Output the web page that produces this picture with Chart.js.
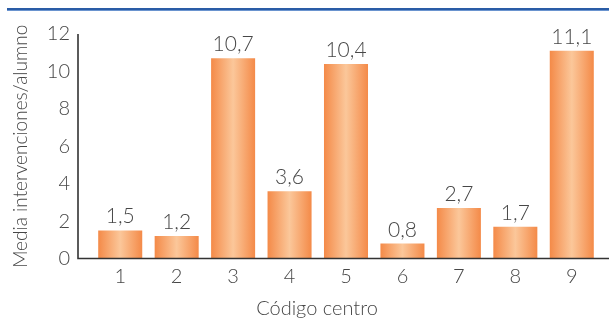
<!DOCTYPE html>
<html lang="es">
  <head>
    <meta charset="UTF-8" />
    <title>Media intervenciones por alumno</title>
    <script src="https://cdn.jsdelivr.net/npm/chart.js"></script>
    <style>
      html, body { margin: 0; padding: 0; background: #ffffff; }
      #wrap { width: 609px; height: 321px; position: relative; }
    </style>
  </head>
  <body>
    <div id="wrap"><canvas id="grafico"></canvas></div>
    <script>
      // datos
      const categorias = ["1", "2", "3", "4", "5", "6", "7", "8", "9"];
      const valores = [1.5, 1.2, 10.7, 3.6, 10.4, 0.8, 2.7, 1.7, 11.1];
      const yMin = 0;
      const yMax = 12;
      const yPaso = 2;
      const tituloY = "Media intervenciones/alumno";
      const tituloX = "Código centro";

      const fuente = "Lato";
      const grisTexto = "#474747";
      const anchoBarra = 0.78;
      let degradados = [];

      // degradado horizontal por barra (efecto cilindro)
      const pluginDegradado = {
        id: "degradado",
        afterLayout(chart) {
          const x = chart.scales.x;
          const ctx = chart.ctx;
          const w = (x.width / categorias.length) * anchoBarra;
          degradados = categorias.map((c, i) => {
            const cx = x.getPixelForValue(i);
            const g = ctx.createLinearGradient(cx - w / 2, 0, cx + w / 2, 0);
            g.addColorStop(0, "#f48a48");
            g.addColorStop(0.5, "#fbc79a");
            g.addColorStop(1, "#f48a48");
            return g;
          });
        },
      };

      // ejes, línea azul superior, etiquetas y título del eje x
      const pluginDecoracion = {
        id: "decoracion",
        afterDatasetsDraw(chart) {
          const ctx = chart.ctx;
          const area = chart.chartArea;
          const ejeIzq = area.left - 14;
          ctx.save();
          // línea azul superior
          ctx.fillStyle = "#2a5ca6";
          ctx.fillRect(7, 8, chart.width - 7, 2);
          ctx.fillStyle = "#6a94cf";
          ctx.fillRect(7, 10, chart.width - 7, 1);
          // ejes
          ctx.strokeStyle = "#333333";
          ctx.lineWidth = 1.6;
          ctx.beginPath();
          ctx.moveTo(ejeIzq, area.top);
          ctx.lineTo(ejeIzq, area.bottom);
          ctx.lineTo(chart.width, area.bottom);
          ctx.stroke();
          // etiquetas de valor
          ctx.fillStyle = grisTexto;
          ctx.font = "300 21px " + fuente;
          ctx.textAlign = "center";
          ctx.textBaseline = "alphabetic";
          const meta = chart.getDatasetMeta(0);
          meta.data.forEach((bar, i) => {
            const txt = valores[i].toString().replace(".", ",");
            ctx.fillText(txt, bar.x, bar.y - 7);
          });
          // título eje x
          ctx.font = "300 20px " + fuente;
          ctx.fillText(tituloX, 317, 315);
          ctx.restore();
        },
      };

      new Chart(document.getElementById("grafico"), {
        type: "bar",
        data: {
          labels: categorias,
          datasets: [
            {
              data: valores,
              backgroundColor: (c) => degradados[c.dataIndex] || "#f48a48",
              borderWidth: 0,
              categoryPercentage: 1,
              barPercentage: anchoBarra,
            },
          ],
        },
        options: {
          responsive: true,
          maintainAspectRatio: false,
          animation: false,
          layout: { padding: { top: 32, right: 9, left: 0, bottom: 0 } },
          plugins: {
            legend: { display: false },
            tooltip: { enabled: false },
          },
          scales: {
            x: {
              grid: { display: false, drawTicks: false },
              border: { display: false },
              ticks: {
                color: grisTexto,
                padding: 6,
                font: { family: fuente, size: 20, weight: "300" },
              },
              afterFit(scale) {
                scale.height = 62.5;
              },
            },
            y: {
              min: yMin,
              max: yMax,
              grid: { display: false, drawTicks: false },
              border: { display: false },
              ticks: {
                stepSize: yPaso,
                color: grisTexto,
                padding: 22,
                font: { family: fuente, size: 20, weight: "300" },
              },
              title: {
                display: true,
                text: tituloY,
                color: grisTexto,
                padding: { top: 9, bottom: 0 },
                font: { family: fuente, size: 19, weight: "300" },
              },
              afterFit(scale) {
                scale.width = 92;
              },
            },
          },
        },
        plugins: [pluginDegradado, pluginDecoracion],
      });
    </script>
  </body>
</html>
